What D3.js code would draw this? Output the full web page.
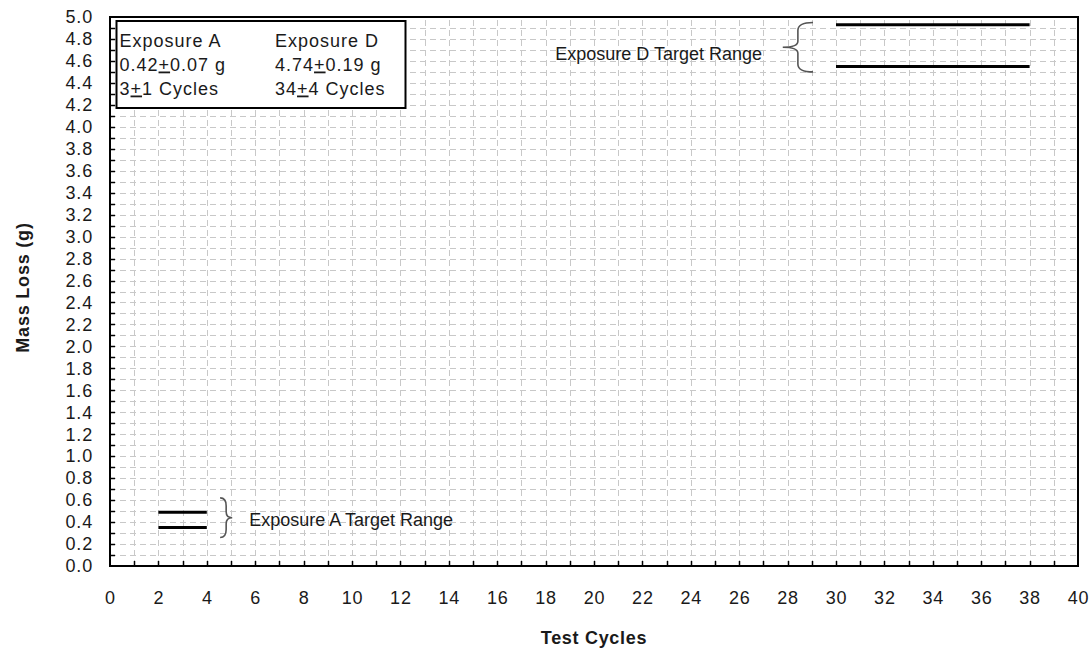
<!DOCTYPE html>
<html>
<head>
<meta charset="utf-8">
<script src="https://cdn.jsdelivr.net/npm/d3@7"></script>
<style>
  html, body { margin: 0; padding: 0; background: #fff; }
  svg { display: block; }
  text { font-family: "Liberation Sans", Arial, sans-serif; fill: #1a1a1a; }
</style>
</head>
<body>
<svg id="chart" width="1092" height="652"></svg>
<script>
// ---- data ----
const xDomain = [0, 40];
const yDomain = [0, 5];
const xTickValues = [0,2,4,6,8,10,12,14,16,18,20,22,24,26,28,30,32,34,36,38,40];
const yTickValues = [0,0.2,0.4,0.6,0.8,1.0,1.2,1.4,1.6,1.8,2.0,2.2,2.4,2.6,2.8,3.0,3.2,3.4,3.6,3.8,4.0,4.2,4.4,4.6,4.8,5.0];
const exposures = ["Exposure A", "Exposure D"];
const massMean = [0.42, 4.74];
const massTol = [0.07, 0.19];
const cycleMean = [3, 34];
const cycleTol = [1, 4];
const rangeLabels = ["Exposure A Target Range", "Exposure D Target Range"];
const xTitle = "Test Cycles";
const yTitle = "Mass Loss (g)";

// ---- layout ----
const W = 1092, H = 652;
const m = { left: 110, right: 14, top: 17, bottom: 86 };
const FONT = '"Liberation Sans", Arial, sans-serif';
const svg = d3.select("#chart");
const x = d3.scaleLinear().domain(xDomain).range([m.left, W - m.right]);
const y = d3.scaleLinear().domain(yDomain).range([H - m.bottom, m.top]);

// grid
const grid = svg.append("g").attr("stroke", "#c8c8c8").attr("stroke-width", 1).attr("stroke-dasharray", "6,4");
grid.selectAll("line.h").data(d3.range(1, 50).map(i => i / 10)).join("line")
  .attr("x1", x(0)).attr("x2", x(40))
  .attr("y1", d => Math.round(y(d)) + 0.5).attr("y2", d => Math.round(y(d)) + 0.5);
grid.selectAll("line.v").data(d3.range(1, 40)).join("line")
  .attr("y1", y(0)).attr("y2", y(5))
  .attr("x1", d => Math.round(x(d)) + 0.5).attr("x2", d => Math.round(x(d)) + 0.5);

// axes
const yAxis = d3.axisLeft(y).tickValues(yTickValues).tickFormat(d3.format(".1f")).tickSize(0).tickPadding(17);
const gy = svg.append("g").attr("transform", `translate(${m.left},0)`).call(yAxis);
gy.select(".domain").remove();
gy.selectAll("text").attr("font-size", 18).attr("letter-spacing", 0.8)
  .style("font-family", FONT).attr("fill", "#1a1a1a");

const xAxis = d3.axisBottom(x).tickValues(xTickValues).tickFormat(d3.format("d")).tickSize(0).tickPadding(25);
const gx = svg.append("g").attr("transform", `translate(0,${H - m.bottom})`).call(xAxis);
gx.select(".domain").remove();
gx.selectAll("text").attr("font-size", 18).attr("letter-spacing", 0.8)
  .style("font-family", FONT).attr("fill", "#1a1a1a");

// inward minor ticks
const ticks = svg.append("g").attr("stroke", "#000").attr("stroke-width", 1.5);
ticks.selectAll("line.yt").data(d3.range(1, 50).map(i => i / 10)).join("line")
  .attr("x1", x(0)).attr("x2", x(0) + 5)
  .attr("y1", d => Math.round(y(d)) + 0.5).attr("y2", d => Math.round(y(d)) + 0.5);
ticks.selectAll("line.xt").data(d3.range(1, 40)).join("line")
  .attr("y1", y(0)).attr("y2", y(0) - 5)
  .attr("x1", d => Math.round(x(d)) + 0.5).attr("x2", d => Math.round(x(d)) + 0.5);

// frame
svg.append("rect").attr("x", x(0)).attr("y", y(5)).attr("width", x(40) - x(0)).attr("height", y(0) - y(5))
  .attr("fill", "none").attr("stroke", "#000").attr("stroke-width", 2);

// target range lines
const ranges = exposures.map((e, i) => ({
  lo: massMean[i] - massTol[i], hi: massMean[i] + massTol[i],
  c0: cycleMean[i] - cycleTol[i], c1: cycleMean[i] + cycleTol[i]
}));
const rl = svg.append("g").attr("stroke", "#000").attr("stroke-width", 3);
ranges.forEach(r => {
  [r.lo, r.hi].forEach(v => {
    rl.append("line").attr("x1", x(r.c0)).attr("x2", x(r.c1)).attr("y1", y(v)).attr("y2", y(v));
  });
});

// braces
function brace(g, xEdge, xTip, y0, y1) {
  const ym = (y0 + y1) / 2;
  const xm = (xEdge + xTip) / 2;
  const p = d3.path();
  p.moveTo(xEdge, y0);
  p.quadraticCurveTo(xm, y0, xm, y0 + 8);
  p.lineTo(xm, ym - 6);
  p.quadraticCurveTo(xm, ym, xTip, ym);
  p.quadraticCurveTo(xm, ym, xm, ym + 6);
  p.lineTo(xm, y1 - 8);
  p.quadraticCurveTo(xm, y1, xEdge, y1);
  g.append("path").attr("d", p.toString()).attr("fill", "none").attr("stroke", "#555").attr("stroke-width", 1.6);
}
// brace A: "}" to the right of the A lines
brace(svg, x(ranges[0].c1 + 0.55), x(ranges[0].c1 + 1.05), y(ranges[0].hi + 0.13), y(ranges[0].lo - 0.09));
svg.append("text").attr("x", x(ranges[0].c1 + 1.75)).attr("y", y(massMean[0]) + 6.5)
  .attr("font-size", 18).text(rangeLabels[0]);
// brace D: "{" to the left of the D lines
brace(svg, x(ranges[1].c0 - 0.95), x(ranges[1].c0 - 2.2), y(ranges[1].hi + 0.02), y(ranges[1].lo - 0.05));
svg.append("text").attr("x", x(18.4)).attr("y", y(massMean[1] - 0.07) + 6.5)
  .attr("font-size", 18).text(rangeLabels[1]);

// legend box
const lg = svg.append("g");
lg.append("rect").attr("x", 116.5).attr("y", 21).attr("width", 289).attr("height", 87)
  .attr("fill", "#fff").attr("stroke", "#000").attr("stroke-width", 2);
function pm(t, a, b, unit) {
  t.append("tspan").text(a);
  t.append("tspan").attr("text-decoration", "underline").style("text-decoration", "underline").text("+");
  t.append("tspan").text(b + unit);
}
const colX = [119.5, 275];
exposures.forEach((e, i) => {
  const mk = () => lg.append("text").attr("x", colX[i]).attr("font-size", 18).attr("letter-spacing", 1);
  mk().attr("y", 46.5).text(e);
  const t2 = mk().attr("y", 70.5);
  pm(t2, d3.format(".2f")(massMean[i]), d3.format(".2f")(massTol[i]), " g");
  const t3 = mk().attr("y", 94.5);
  pm(t3, String(cycleMean[i]), String(cycleTol[i]), " Cycles");
});

// titles
svg.append("text").attr("x", (x(0) + x(40)) / 2).attr("y", 644).attr("text-anchor", "middle")
  .attr("font-size", 18).attr("letter-spacing", 0.7).attr("font-weight", "bold").text(xTitle);
svg.append("text").attr("transform", `translate(29,${(y(0) + y(5)) / 2 - 4}) rotate(-90)`).attr("text-anchor", "middle")
  .attr("font-size", 18).attr("letter-spacing", 0.8).attr("font-weight", "bold").text(yTitle);
</script>
</body>
</html>
